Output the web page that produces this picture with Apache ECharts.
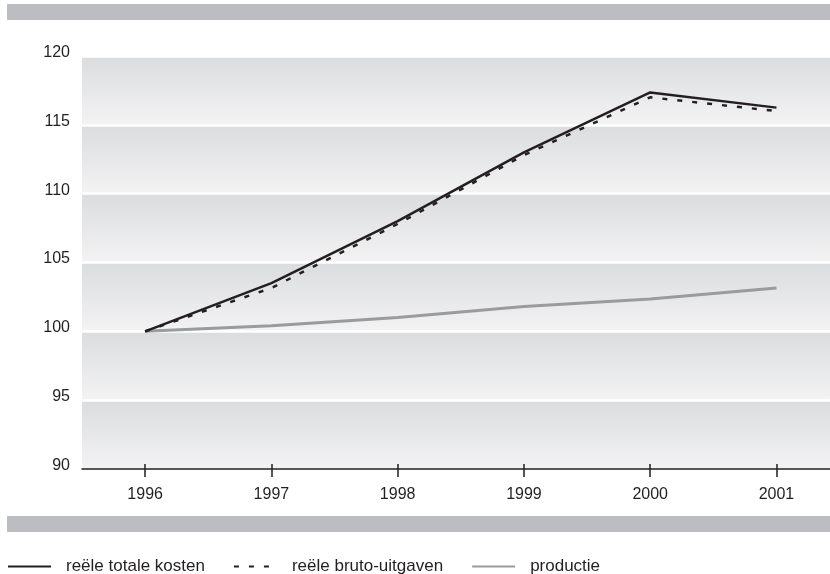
<!DOCTYPE html>
<html>
<head>
<meta charset="utf-8">
<script src="https://cdn.jsdelivr.net/npm/echarts@6/dist/echarts.min.js"></script>
<style>html,body{margin:0;padding:0;background:#fff}#c{width:830px;height:574px}</style>
</head>
<body>
<div id="c"></div>
<script>
const years = [1996, 1997, 1998, 1999, 2000, 2001];
const totaleKosten = [100, 103.5, 108.0, 113.0, 117.35, 116.25];
const brutoUitgaven = [100, 103.15, 107.8, 112.8, 117.0, 116.0];
const productie = [100, 100.4, 101.0, 101.8, 102.35, 103.15];
const yTicks = [90, 95, 100, 105, 110, 115, 120];
const seriesNames = ['reële totale kosten', 'reële bruto-uitgaven', 'productie'];

const FONT = 'Liberation Sans';
const TXT = '#231f20';
const pairs = arr => years.map((y, i) => [y, arr[i]]);
const bandGradient = {
  type: 'linear', x: 0, y: 0, x2: 0, y2: 1,
  colorStops: [{offset: 0, color: '#dbdcde'}, {offset: 1, color: '#f3f3f4'}]
};
const bands = [];
for (let i = 0; i < yTicks.length - 1; i++) {
  bands.push([{yAxis: yTicks[i]}, {yAxis: yTicks[i + 1]}]);
}

const chart = echarts.init(document.getElementById('c'), null, {renderer: 'canvas'});
chart.setOption({
  animation: false,
  backgroundColor: '#fff',
  textStyle: {fontFamily: FONT, color: TXT},
  graphic: [
    {type: 'rect', shape: {x: 7, y: 4, width: 823, height: 16}, style: {fill: '#bcbdc0'}, silent: true},
    {type: 'rect', shape: {x: 7, y: 516, width: 823, height: 16}, style: {fill: '#bcbdc0'}, silent: true}
  ],
  grid: {left: 82, right: 0, top: 56, bottom: 105, containLabel: false},
  legend: {
    left: 2, top: 553,
    itemWidth: 43, itemHeight: 14, itemGap: 28,
    itemStyle: {opacity: 0},
    textStyle: {fontFamily: FONT, fontSize: 17, color: TXT, padding: [0, 0, 0, 10]},
    data: seriesNames
  },
  xAxis: [
    {
      type: 'value', min: 1995.5, max: 2001.424, z: 6,
      splitLine: {show: false},
      axisLine: {lineStyle: {color: '#231f20', width: 1.5}},
      axisTick: {show: true, customValues: years, length: 8, lineStyle: {color: '#231f20', width: 1.5}},
      axisLabel: {customValues: years, fontFamily: FONT, fontSize: 16, color: TXT, margin: 18, formatter: v => String(v)}
    },
    {
      type: 'value', min: 1995.5, max: 2001.424, z: 6, position: 'bottom',
      splitLine: {show: false},
      axisLine: {show: false},
      axisTick: {show: true, inside: true, customValues: years, length: 5, lineStyle: {color: '#231f20', width: 1.5}},
      axisLabel: {show: false}
    }
  ],
  yAxis: {
    type: 'value', min: 90, max: 120, interval: 5, z: 3,
    axisLine: {show: false}, axisTick: {show: false},
    splitLine: {lineStyle: {color: '#ffffff', width: 2.5}},
    axisLabel: {fontFamily: FONT, fontSize: 16, color: TXT, margin: 12, verticalAlign: 'bottom', lineHeight: 7}
  },
  series: [
    {
      type: 'line', data: [], z: 1, silent: true,
      markArea: {silent: true, itemStyle: {color: bandGradient}, data: bands}
    },
    {
      name: seriesNames[2], type: 'line', data: pairs(productie), z: 5, symbol: 'none',
      lineStyle: {color: '#9a9b9d', width: 3}, itemStyle: {color: '#9a9b9d'}
    },
    {
      name: seriesNames[1], type: 'line', data: pairs(brutoUitgaven), z: 6, symbol: 'none',
      lineStyle: {color: '#231f20', width: 2.5, type: [5, 10]}, itemStyle: {color: '#231f20'}
    },
    {
      name: seriesNames[0], type: 'line', data: pairs(totaleKosten), z: 7, symbol: 'none',
      lineStyle: {color: '#231f20', width: 2.5}, itemStyle: {color: '#231f20'}
    }
  ]
});
</script>
</body>
</html>
